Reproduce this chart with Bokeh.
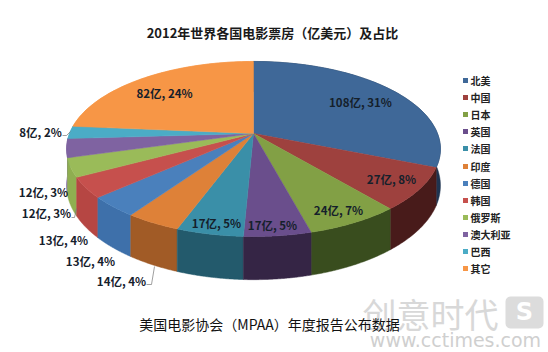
import numpy as np
from bokeh.plotting import figure
from bokeh.models import Range1d
from bokeh.core.properties import value
from bokeh.embed import file_html
from bokeh.resources import INLINE

TITLE = "2012年世界各国电影票房（亿美元）及占比"
SOURCE = "美国电影协会（MPAA）年度报告公布数据"
categories = ["北美", "中国", "日本", "英国", "法国", "印度", "德国", "韩国", "俄罗斯", "澳大利亚", "巴西", "其它"]
revenue = [108, 27, 24, 17, 17, 14, 13, 13, 12, 12, 8, 82]
shares = [31, 8, 7, 5, 5, 4, 4, 4, 3, 3, 2, 24]
top_colors = ["#3F6898", "#9E413E", "#82A045", "#6A4E8C", "#3A8FA8", "#DE8138",
              "#4A80BC", "#C6504D", "#9ABB59", "#7F63A1", "#4BACC6", "#F79646"]
wall_colors = ["#1F3450", "#481B1A", "#394D1E", "#352545", "#235A6C", "#A15B26",
               "#3E70AA", "#B64643", "#8FAE50", "#6F5590", "#4BACC6", "#F79646"]
label_x = [360, 391, 338, 216, 272, 121, 90, 63, 46, 43, 40, 164]
label_y = [101, 178, 209, 222, 224, 280, 260, 239, 212, 191, 131, 92]
legend_y = [80, 97, 114, 131, 148, 166, 183, 200, 217, 234, 251, 268]

W, H = 548, 352
p = figure(width=W, height=H, output_backend="svg", toolbar_location=None,
           x_range=Range1d(0, W), y_range=Range1d(H, 0),
           min_border=0, outline_line_color=None, background_fill_color="white")
p.xaxis.visible = False
p.yaxis.visible = False
p.grid.visible = False

# perspective pie geometry
CX, CY, RX, RY, K, DEPTH = 253, 133, 184, 84.8, 0.177, 35.5


def project(theta):
    u, v = np.sin(theta), -np.cos(theta)
    w = 1 - K * v
    return CX + RX * u / w, CY + RY * v / w, DEPTH / w


edges = np.concatenate([[0], np.cumsum(revenue)]) / sum(revenue) * 2 * np.pi
slices = []
for i in range(len(revenue)):
    t = np.linspace(edges[i], edges[i + 1], 60)
    slices.append((i, t, (edges[i] + edges[i + 1]) / 2))

# outer walls, from back to front
for i, t, mid in sorted(slices, key=lambda s: -abs(s[2] - np.pi)):
    x, y, d = project(t)
    p.patch(np.concatenate([x, x[::-1]]), np.concatenate([y, (y + d)[::-1]]),
            fill_color=wall_colors[i], line_color=wall_colors[i], line_width=0.5)
# top faces
for i, t, mid in slices:
    x, y, d = project(t)
    p.patch(np.concatenate([[CX], x]), np.concatenate([[CY], y]),
            fill_color=top_colors[i], line_color=top_colors[i], line_width=0.5)

# leader lines
p.line([62, 66, 70], [135, 135, 131], line_color="#777777", line_width=0.7)
p.line([71, 74, 76], [217, 217, 208], line_color="#777777", line_width=0.7)
p.line([146, 151, 154], [284, 284, 266], line_color="#777777", line_width=0.7)

labels = [f"{v}亿, {s}%" for v, s in zip(revenue, shares)]
p.text(label_x, label_y, text=labels, text_font=value("Noto Sans CJK SC"), text_font_style="bold",
       text_font_size="11.5px", text_color="#15202B", text_align="center", text_baseline="middle")

# legend
p.scatter([465] * 12, legend_y, marker="square", size=5, fill_color=top_colors, line_color=None)
p.text([470] * 12, legend_y, text=categories, text_font=value("Noto Sans CJK SC"),
       text_font_size="10px", text_font_style="bold", text_color="#222222",
       text_align="left", text_baseline="middle")

p.text([272], [32], text=[TITLE], text_font=value("Noto Sans CJK SC"), text_font_style="bold",
       text_font_size="13px", text_color="#1A1A1A", text_align="center", text_baseline="middle")

# watermark
p.text([430], [313], text=["创意时代"], text_font=value("Noto Sans CJK SC"), text_font_size="34px",
       text_color="#D8D8D8", text_align="center", text_baseline="middle")
p.rect([524], [312], width=38, height=32, fill_color="#DCDCDC", line_color=None, border_radius=5)
p.text([524], [311], text=["S"], text_font=value("DejaVu Sans"), text_font_style="bold", text_font_size="24px",
       text_color="white", text_align="center", text_baseline="middle")
p.text([455], [339], text=["www.cctimes.com"], text_font=value("DejaVu Sans"), text_font_size="19px",
       text_color="#CFCFCF", text_align="center", text_baseline="middle")

p.text([269], [323], text=[SOURCE], text_font=value("Noto Sans CJK SC"), text_font_size="14px",
       text_color="#111111", text_align="center", text_baseline="middle")

open("out.html", "w").write(file_html(p, INLINE))
